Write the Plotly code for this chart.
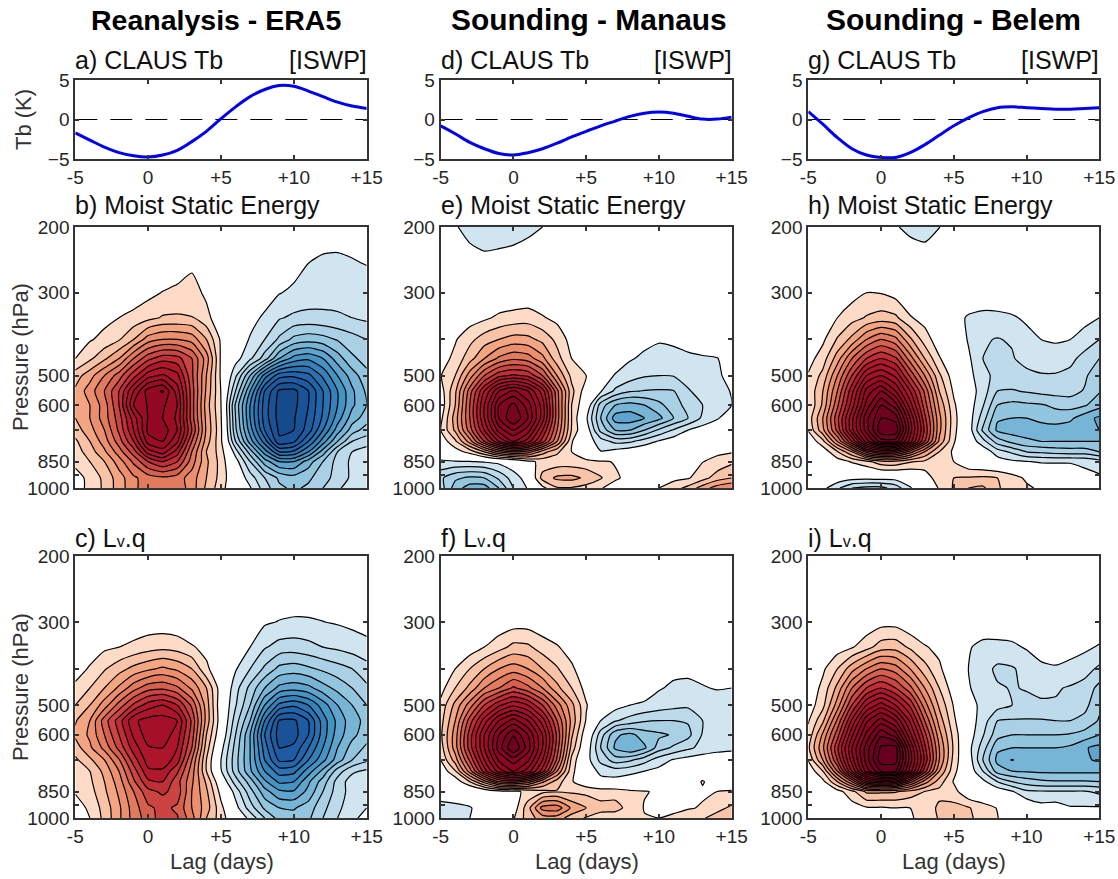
import plotly.graph_objects as go

lags = list(range(-5, 16))
pressure = [200, 250, 300, 350, 400, 450, 500, 550, 600, 650, 700, 750, 800, 850, 940, 1000]
titles = ["Reanalysis - ERA5", "Sounding - Manaus", "Sounding - Belem"]
x_ticks = [-5, 0, 5, 10, 15]
x_labels = ["-5", "0", "+5", "+10", "+15"]
p_ticks = [200, 300, 400, 500, 600, 700, 850, 925, 1000]
p_labels = ["200", "300", "", "500", "600", "", "850", "", "1000"]
tb_ticks = [-5, 0, 5]

tb_era5 = [-1.7,-2.6,-3.5,-4.2,-4.6,-4.75,-4.5,-3.9,-2.8,-1.5,0.1,1.6,2.9,3.8,4.3,4.2,3.6,2.9,2.2,1.7,1.4]
tb_manaus = [-0.8,-1.8,-2.9,-3.7,-4.3,-4.5,-4.2,-3.7,-3.0,-2.2,-1.5,-0.8,-0.2,0.4,0.8,0.95,0.8,0.4,0.05,0.05,0.3]
tb_belem = [1.0,-0.6,-2.3,-3.7,-4.5,-4.8,-4.8,-4.2,-3.2,-2.0,-0.8,0.2,1.0,1.5,1.6,1.5,1.4,1.3,1.3,1.4,1.5]

mse_era5 = [
[0,0,0,0,0,0,0,0,0,0,0,0,0,0,0,-0.3,-0.3,-0.4,-0.4,-0.4,-0.3],
[0,0,0,0,0,0,0.1,0.5,0.8,0.2,0,0,0,-0.1,-0.3,-0.6,-1.0,-1.2,-1.25,-1.1,-0.95],
[0,0,0.1,0.2,0.4,0.7,1.05,1.2,1.4,0.8,0.2,0,-0.1,-0.4,-0.95,-1.2,-1.4,-1.6,-1.7,-1.65,-1.6],
[0.1,0.4,0.7,1.0,1.3,1.7,2.1,2.15,2.05,1.3,0.3,0,-0.6,-1.2,-1.9,-2.2,-2.3,-2.2,-2.1,-2.0,-1.8],
[0.6,0.9,1.3,1.9,3.0,4.5,5.0,5.0,4.6,3.0,0.8,-0.2,-1.1,-2.0,-3.2,-4.3,-4.6,-4.4,-3.9,-3.4,-3.0],
[1.0,1.8,2.8,4.0,6.0,7.7,8.6,8.4,7.0,4.5,0.8,-0.6,-1.8,-3.5,-6.0,-7.4,-7.8,-7.0,-5.5,-4.2,-3.6],
[2.5,3.6,5.0,6.5,8.6,10.6,11.2,10.3,7.2,4.0,0.8,-1.8,-5.0,-8.5,-10.6,-10.8,-10.3,-8.8,-7.0,-5.5,-4.3],
[3.2,4.5,6.0,8.0,11.0,13.5,14.1,11.5,7.5,3.8,0.95,-3.0,-7.0,-11.0,-13.2,-13.3,-12.0,-10.0,-8.0,-6.2,-4.8],
[3.3,4.0,5.5,8.0,12.0,13.1,13.2,12.0,7.5,3.5,1.0,-4.2,-8.0,-11.5,-13.4,-13.3,-12.0,-10.0,-8.0,-6.2,-5.0],
[3.0,4.0,5.5,7.5,10.5,13.1,13.0,11.8,7.5,3.7,1.1,-4.0,-8.0,-11.5,-13.4,-13.1,-11.8,-9.8,-7.5,-5.5,-4.5],
[2.5,3.6,5.0,7.2,10.0,13.3,13.6,12.0,8.0,3.8,1.2,-3.8,-7.5,-11.0,-13.2,-13.0,-11.5,-9.0,-6.5,-4.5,-3.5],
[1.8,3.0,4.5,6.5,9.0,12.5,13.0,11.2,7.0,3.5,1.2,-3.0,-6.5,-9.5,-12.8,-12.2,-10.0,-7.5,-5.0,-3.0,-2.5],
[1.5,2.5,3.8,5.5,7.5,10.5,11.5,9.5,6.0,3.0,1.5,-1.5,-4.5,-7.5,-10.0,-9.8,-8.0,-5.5,-3.0,-2.0,-1.5],
[1.2,2.0,3.0,4.5,6.2,8.0,9.0,8.0,5.5,3.2,1.6,-0.5,-3.0,-5.5,-7.0,-7.0,-5.5,-4.0,-2.6,-1.8,-1.3],
[0.7,1.2,2.3,3.5,4.8,5.5,5.8,5.5,4.5,3.0,1.6,0.0,-1.5,-3.0,-4.2,-4.6,-4.2,-3.4,-2.6,-1.8,-1.2],
[0.5,1.3,2.2,3.5,4.7,5.7,6.0,5.7,4.5,2.8,1.4,0.0,-0.9,-2.5,-3.8,-4.2,-3.8,-3.0,-2.2,-1.4,-1.0],
]

lvq_era5 = [
[0,0,0,0,0,0,0,0,0,0,0,0,0,0,0,0,0,0,0,0,0],
[0,0,0,0,0,0,0,0,0,0,0,0,0,0,-0.3,-0.3,-0.3,-0.3,-0.3,-0.3,-0.2],
[0,0,0,0.1,0.3,0.4,0.4,0.3,0.1,0,0,0,-0.4,-0.85,-1.05,-1.15,-1.13,-1.02,-0.9,-0.75,-0.6],
[0.2,0.5,0.8,1.0,1.25,1.55,1.7,1.55,1.1,0.7,0.2,0,-1.0,-1.9,-2.4,-2.5,-2.3,-2.0,-1.8,-1.55,-1.3],
[0.6,1.1,1.9,2.6,3.3,3.8,4.2,3.8,3.0,1.2,0.2,-0.9,-2.0,-3.2,-4.3,-4.5,-4.2,-3.8,-3.4,-3.0,-2.4],
[1.2,2.0,3.0,4.2,5.6,6.6,6.8,6.2,4.8,3.0,0.4,-1.6,-3.3,-5.0,-6.3,-6.6,-6.3,-5.4,-4.7,-4.0,-3.2],
[2.0,3.0,4.5,6.4,8.2,9.5,10.0,9.0,6.8,3.5,0.2,-1.9,-4.0,-7.0,-9.3,-9.8,-9.0,-7.5,-6.0,-5.0,-4.0],
[2.9,4.0,6.5,8.5,10.8,11.4,11.5,11.0,7.8,3.6,0.3,-2.5,-5.0,-9.0,-12.1,-12.2,-11.0,-8.5,-6.7,-5.4,-4.7],
[3.2,4.2,6.0,8.0,10.2,11.5,11.6,10.5,7.5,3.0,0.0,-3.0,-6.0,-10.0,-12.5,-12.4,-11.0,-8.5,-6.5,-5.3,-4.4],
[2.5,3.8,5.3,7.3,9.5,10.9,11.0,10.0,7.0,2.5,-0.6,-3.4,-6.0,-9.5,-12.0,-11.8,-10.0,-8.0,-6.0,-4.6,-3.8],
[1.8,2.8,4.0,5.9,8.5,10.5,10.7,9.5,6.0,2.0,-1.0,-3.6,-6.0,-9.0,-11.2,-11.0,-9.0,-7.3,-5.5,-4.0,-3.2],
[1.1,2.0,3.3,5.0,7.5,9.8,9.8,8.2,5.5,2.0,-0.9,-3.5,-5.8,-8.0,-9.5,-9.3,-7.5,-5.7,-3.5,-2.2,-1.8],
[1.0,1.8,3.0,4.5,6.8,8.8,9.0,7.4,5.2,2.8,0.0,-2.5,-4.5,-6.8,-8.2,-8.0,-6.2,-4.5,-2.6,-1.5,-1.1],
[1.1,1.6,2.8,4.2,6.0,7.7,8.2,7.6,5.0,3.2,0.6,-1.4,-3.6,-5.6,-6.8,-6.9,-5.7,-4.0,-2.5,-1.6,-1.2],
[0.5,1.2,2.4,3.8,5.5,6.8,7.3,6.8,5.0,3.5,1.3,-0.6,-2.5,-4.2,-5.0,-5.1,-4.5,-3.3,-2.2,-1.5,-1.0],
[0.3,1.0,2.3,3.8,5.4,6.5,7.5,7.1,5.4,3.0,1.5,0.0,-1.3,-3.0,-4.4,-4.6,-4.2,-3.0,-2.0,-1.2,-0.7],
]

mse_manaus = [
[-0.2,-0.9,-1.4,-1.6,-1.6,-1.5,-1.3,-1.0,-0.6,-0.2,0,0,0,0,0,0,0,0,0,0,0],
[0,-0.2,-0.5,-0.7,-0.6,-0.5,-0.3,0,0,0,0,0,0,0,0,0,0,0,0,0,0],
[0,0,0,0,0.1,0.1,0.2,0.1,0,0,0,0,0,0,0,0,0,0,0,0,0],
[0,0.2,0.5,0.8,1.2,1.4,1.5,1.1,0.7,0.2,0,0,0,0,-0.1,-0.1,-0.1,0,0,0,0],
[0.3,0.9,1.7,2.5,3.0,3.4,3.3,2.7,1.7,0.6,0.1,0,-0.1,-0.3,-0.7,-0.9,-0.8,-0.5,-0.2,0,0],
[0.5,1.3,2.6,4.0,5.2,5.8,5.5,4.3,2.4,1.0,0.3,0,-0.3,-0.9,-1.2,-1.4,-1.35,-1.25,-1.15,-1.05,-0.5],
[0.95,2.0,4.5,7.0,8.7,9.2,8.8,7.0,4.0,1.7,1.05,-0.3,-1.1,-1.5,-1.9,-2.0,-1.95,-1.6,-1.3,-1.1,-0.8],
[0.5,2.8,6.5,10.0,13.0,14.2,13.0,10.5,6.3,2.3,0.4,-0.9,-2.2,-2.9,-3.05,-3.1,-3.05,-2.1,-1.6,-1.3,-0.95],
[0.3,3.0,7.0,11.0,15.0,16.3,14.5,11.5,6.5,2.0,0.0,-3.5,-5.0,-5.4,-5.0,-4.3,-3.4,-2.7,-2.0,-1.5,-1.0],
[0.7,3.5,7.0,11.0,15.0,17.0,15.0,11.5,6.5,2.0,-0.8,-4.0,-6.5,-6.6,-6.0,-5.3,-4.0,-3.0,-1.8,-1.1,-0.4],
[1.0,3.2,6.5,10.0,13.5,15.0,13.5,10.0,6.0,1.9,-0.3,-3.3,-5.0,-5.0,-4.0,-2.8,-1.9,-1.0,-0.5,-0.2,0],
[0.3,1.8,4.5,8.0,11.0,13.0,11.5,8.5,5.0,1.1,-0.4,-1.5,-2.3,-2.2,-1.5,-0.9,-0.4,-0.1,0,0,0],
[0,0.5,1.4,3.0,5.0,6.0,5.5,3.5,2.2,1.0,-0.1,-0.95,-0.6,-0.3,-0.1,0,0,0,0.3,0.8,0.9],
[-1.2,-1.1,-1.05,-0.9,-0.7,-0.3,0.7,1.3,1.4,1.4,1.3,1.1,0.95,0.4,0.1,0.3,0.5,0.85,0.97,1.3,1.8],
[-2.8,-3.8,-4.2,-4.0,-2.8,-1.5,-0.5,2.4,3.2,3.3,2.8,2.1,1.1,0.8,0.7,0.7,0.7,0.9,1.6,2.5,3.0],
[-2.5,-4.5,-5.5,-5.5,-4.0,-2.0,-0.9,0.7,1.9,1.9,1.6,1.05,0.7,0.7,0.8,1.0,1.6,2.3,3.5,4.5,5.0],
]

lvq_manaus = [
[0,0,0,0,0,0,0,0,0,0,0,0,0,0,0,0,0,0,0,0,0],
[0,0,0,0,0,0,0,0,0,0,0,0,0,0,0,0,0,0,0,0,0],
[0,0,0,0,0.3,0.5,0.5,0.3,0,0,0,0,0,0,0,0,0,0,0,0,0],
[0,0,0.4,1.0,1.6,2.3,2.2,1.5,1.1,0.5,0,0,0,0,0,0,-0.2,-0.2,-0.1,0,0],
[0.2,1.0,2.0,3.0,4.0,4.5,4.0,3.0,2.1,1.2,0.2,0,0,0,-0.1,-0.4,-0.7,-0.8,-0.5,-0.3,-0.2],
[0.6,2.0,3.3,5.0,6.0,7.2,6.3,5.0,3.3,2.0,0.6,0,0,-0.2,-0.5,-0.9,-1.2,-1.2,-1.1,-0.9,-1.0],
[1.3,3.3,5.5,8.0,9.8,10.8,10.0,8.0,5.5,3.3,1.1,-0.2,-0.6,-1.0,-1.15,-1.5,-1.7,-1.8,-1.8,-1.8,-1.8],
[1.6,4.0,7.5,10.5,13.0,14.4,13.0,10.5,7.0,3.7,0.9,-1.0,-1.9,-2.4,-2.9,-3.0,-3.0,-2.9,-2.0,-1.5,-1.3],
[1.8,4.5,8.5,12.0,15.0,16.9,15.0,12.0,7.8,3.2,0.2,-2.5,-4.8,-5.3,-4.5,-4.2,-3.9,-3.3,-1.9,-1.5,-1.8],
[1.5,4.5,8.5,12.0,15.5,18.0,15.5,12.0,7.5,2.6,-0.2,-3.0,-5.2,-6.0,-5.2,-3.5,-2.8,-2.2,-1.7,-1.4,-1.3],
[1.0,3.5,7.2,11.0,14.2,15.5,14.2,11.0,6.8,1.7,-0.5,-2.3,-3.5,-3.2,-2.4,-1.5,-0.9,-0.6,-0.4,-0.3,-0.2],
[0.2,1.9,5.5,9.5,12.5,14.0,12.5,9.5,5.0,1.3,-0.2,-1.3,-1.5,-1.3,-1.0,-0.7,-0.3,-0.1,0,0,0],
[0,0.3,2.0,4.5,7.0,7.5,6.5,4.2,2.5,1.1,0.2,-0.6,-0.6,-0.4,-0.2,-0.1,0,0.2,1.1,0.3,0.3],
[-0.7,-0.6,-0.5,0.0,0.6,0.8,1.2,1.7,1.9,1.8,1.7,1.6,1.55,1.2,1.05,0.9,0.5,0.7,0.85,1.0,1.1],
[-1.2,-1.15,-1.05,-0.7,-0.2,0.4,2.6,5.4,5.6,3.8,3.0,2.3,2.4,1.6,0.95,0.7,0.6,0.9,1.1,1.7,2.2],
[-1.1,-1.1,-1.0,-0.5,-0.2,0.9,2.5,3.5,3.5,2.5,1.9,1.6,1.3,1.1,1.05,1.0,1.3,1.6,1.9,2.4,2.8],
]

mse_belem = [
[0,0,0,0,0,0,-0.9,-1.3,-1.5,-1.05,0,0,0,0,0,0,0,0,0,0,0],
[0,0,0,0,0,0,0,-0.2,-0.3,0,0,0,0,0,0,0,0,0,0,0,0],
[0,0,0.1,0.6,1.0,0.95,0.6,0.1,0,0,0,0,0,0,0,0,0,0,0,0,0],
[0,0.1,1.0,1.6,2.1,2.4,2.2,1.1,0.6,0.1,-0.5,-1.15,-1.4,-1.35,-1.15,-0.8,-0.5,-0.4,-0.4,-0.7,-1.0],
[0.1,0.8,2.1,3.3,5.0,6.0,5.3,3.2,1.5,0.4,0,-1.1,-1.9,-2.05,-1.9,-1.4,-1.0,-0.9,-1.0,-1.4,-2.0],
[0.6,1.5,3.5,6.0,8.0,9.0,8.2,5.5,3.0,1.1,0.1,-0.8,-2.0,-2.3,-2.1,-1.6,-1.4,-1.4,-1.7,-2.4,-3.0],
[1.1,2.3,5.0,8.0,11.0,12.0,10.8,7.8,5.0,2.2,0.4,-0.5,-1.9,-2.1,-2.2,-2.3,-2.1,-2.1,-2.3,-2.8,-3.8],
[1.2,3.0,6.0,9.7,13.4,15.0,13.0,10.0,6.8,3.0,0.8,-0.4,-1.5,-3.0,-3.1,-2.9,-2.7,-2.6,-2.6,-3.1,-3.9],
[1.0,3.2,6.8,10.5,14.4,17.0,15.5,11.5,7.5,3.8,1.2,-0.4,-1.9,-4.0,-4.3,-4.2,-4.1,-3.8,-3.6,-3.9,-4.6],
[1.4,4.0,7.7,11.7,15.7,18.0,17.6,13.0,8.3,4.3,1.4,-0.4,-2.5,-4.9,-5.0,-5.0,-4.7,-4.5,-4.8,-5.6,-6.2],
[1.1,3.7,7.3,11.7,15.5,18.8,18.8,13.5,8.8,4.3,1.3,-0.3,-3.2,-5.2,-5.5,-5.5,-5.5,-5.5,-5.5,-5.7,-6.0],
[0.1,1.7,5.0,9.0,13.5,16.5,16.5,12.5,8.0,3.8,1.1,-0.2,-1.6,-3.5,-4.3,-4.8,-5.0,-5.0,-5.0,-5.0,-5.0],
[0,0.3,1.9,4.0,7.5,9.0,8.7,6.5,4.0,2.0,0.8,0,-0.3,-1.5,-2.2,-3.0,-3.2,-3.4,-3.5,-3.5,-4.0],
[0,0,0.5,1.1,1.7,2.6,2.7,2.1,1.8,1.7,1.0,0.1,-0.2,-0.5,-0.8,-0.95,-1.1,-1.1,-1.1,-1.2,-1.6],
[0,0,-0.3,-0.6,-0.7,-0.6,-0.6,-0.3,0.3,1.7,2.0,2.1,2.2,2.0,1.5,0.8,0.2,0,-0.1,-0.7,-0.8],
[0,-0.7,-1.8,-3.0,-3.3,-3.3,-2.6,-1.1,0,1.1,2.1,3.0,3.2,2.1,1.6,1.2,0.8,0.2,0,0,0],
]

lvq_belem = [
[0,0,0,0,0,0,0,0,0,0,0,0,0,0,0,0,0,0,0,0,0],
[0,0,0,0,0,0,0,0,0,0,0,0,0,0,0,0,0,0,0,0,0],
[0,0,0,0,0.3,0.6,0.6,0.2,0,0,0,-0.1,-0.3,-0.3,-0.3,-0.2,0,0,0,-0.1,-0.3],
[0,0,0.5,0.9,1.6,2.5,2.6,1.8,1.1,0.7,0.1,-0.9,-1.3,-1.3,-1.2,-0.9,-0.6,-0.5,-0.6,-0.8,-1.1],
[0,0.8,2.0,3.6,5.0,6.0,5.5,4.0,2.4,1.2,0.1,-1.0,-1.6,-2.2,-2.1,-1.7,-1.2,-1.1,-1.3,-1.6,-2.2],
[0.2,1.3,3.3,6.0,8.0,9.0,8.0,6.3,4.0,2.0,0.4,-0.9,-1.5,-1.9,-2.05,-1.95,-1.85,-1.9,-2.1,-2.4,-3.3],
[0.4,1.7,4.5,8.0,11.0,12.5,11.0,8.8,5.5,2.8,0.9,-0.7,-1.2,-1.6,-2.0,-2.2,-2.1,-2.1,-2.3,-2.7,-3.8],
[0.9,2.8,6.2,10.2,13.8,15.5,14.0,10.8,7.0,3.6,1.2,-0.4,-1.5,-3.0,-3.1,-3.1,-3.1,-3.0,-3.0,-3.3,-4.1],
[1.3,4.2,7.6,11.8,15.3,17.8,16.5,12.3,8.4,4.4,1.6,-0.4,-1.9,-3.6,-4.0,-4.0,-4.0,-4.0,-4.1,-4.4,-5.0],
[1.8,4.8,8.8,13.0,16.5,19.2,19.5,14.0,9.3,5.0,1.8,-0.6,-2.5,-4.8,-5.0,-5.0,-5.0,-5.0,-5.2,-5.9,-6.3],
[1.1,4.0,8.0,12.5,16.5,19.6,19.5,14.5,9.8,5.0,1.6,-0.3,-3.0,-5.3,-6.05,-5.6,-5.5,-5.5,-5.6,-5.9,-6.1],
[0.2,2.0,6.0,11.0,15.5,18.0,18.0,13.5,8.5,4.0,1.3,-0.2,-2.0,-4.5,-5.0,-5.1,-5.2,-5.2,-5.2,-5.2,-5.2],
[0,0.7,3.0,6.0,10.0,11.0,10.5,7.5,4.5,2.5,0.9,0,-0.7,-2.0,-3.0,-3.5,-3.8,-3.9,-3.9,-3.9,-4.0],
[0,0.1,0.6,1.7,3.2,3.2,3.1,2.6,2.0,1.7,1.4,0.1,0,-0.3,-0.9,-1.8,-1.9,-1.9,-1.9,-1.9,-2.2],
[0,0,0,0.5,0.9,0.9,1.0,1.0,1.4,2.2,2.3,2.1,1.4,0.95,0.2,0,-0.6,-0.5,-0.9,-0.9,-0.9],
[0,0,0,0,0,0.2,0.5,0.9,1.3,2.1,2.4,2.2,1.6,1.05,0.1,0,0,0,0,0,0],
]

tb_sets = [tb_era5, tb_manaus, tb_belem]
mse_sets = [mse_era5, mse_manaus, mse_belem]
lvq_sets = [lvq_era5, lvq_manaus, lvq_belem]
labels_tb = ["a) CLAUS Tb", "d) CLAUS Tb", "g) CLAUS Tb"]
labels_mse = ["b) Moist Static Energy", "e) Moist Static Energy", "h) Moist Static Energy"]
q = "L<span style='font-size:16px'>v</span>.q"
labels_q = ["c) " + q, "f) " + q, "i) " + q]

reds = ["#FDDBC7","#F9C3A8","#F4A582","#EB8F6F","#E27A5E","#D6604D","#CB4441","#C02E36","#B2182B",
        "#AC152A","#A41027","#9B0C25","#930823","#8A0621","#810420","#78031F","#70021F","#67001F"]
blues = ["#D1E5F0","#BCDAEA","#A9D0E5","#92C5DE","#76B5D6","#5EA4CE","#4393C3","#3681BA","#2B72B2",
         "#2166AC","#1D5CA2","#195297","#154A8C","#124284","#0E3C7B","#0B3772","#083369","#053061"]

NLEV = 30


def stepped(cols):
    stops = [[0, "rgba(255,255,255,0)"], [0.5 / NLEV, "rgba(255,255,255,0)"]]
    for lev in range(1, NLEV + 1):
        c = cols[min(lev, len(cols)) - 1]
        stops.append([(lev - 0.5) / NLEV, c])
        stops.append([(lev + 0.5) / NLEV, c])
    stops[-1][0] = 1
    return stops


PX_W, PX_H = 1118, 879
cols_px = [(75.3, 366.7), (440.7, 731.7), (808.3, 1099.3)]
rows_px = [(80, 159), (227, 488), (556, 818)]
title_x = [216, 589, 953.5]
title_size = [28.5, 29.9, 30]
TICK = "#262626"
fig = go.Figure()
annots = []


def dom_x(a):
    return [a[0] / PX_W, a[1] / PX_W]


def dom_y(a):
    return [1 - a[1] / PX_H, 1 - a[0] / PX_H]


def text(x, y, s, size, anchor="left", color="#111111", bold=False, angle=0):
    annots.append(dict(x=x / PX_W, y=1 - y / PX_H, xref="paper", yref="paper",
                       text=f"<b>{s}</b>" if bold else s,
                       showarrow=False, xanchor=anchor, yanchor="middle", textangle=angle,
                       font=dict(size=size, color=color, family="Liberation Sans")))


n = 0
axes = {}
for c in range(3):
    for r in range(3):
        n += 1
        xn = "x" if n == 1 else f"x{n}"
        yn = "y" if n == 1 else f"y{n}"
        xa = dict(domain=dom_x(cols_px[c]), anchor=yn, range=[-5, 15], tickmode="array", tickvals=x_ticks,
                  ticktext=x_labels, ticks="inside", ticklen=4, tickwidth=1.5, tickcolor="#333333", showgrid=False,
                  zeroline=False, mirror="ticks", showline=True, linewidth=2, linecolor="#333333", automargin=False,
                  tickfont=dict(size=19, color=TICK, family="Liberation Sans"), showticklabels=(r != 1))
        if r == 0:
            ya = dict(range=[-5, 5], tickmode="array", tickvals=tb_ticks)
            fig.add_trace(go.Scatter(x=[-5, 15], y=[0, 0], mode="lines", xaxis=xn, yaxis=yn, showlegend=False,
                                     line=dict(color="black", width=1, dash="22px,13px")))
            fig.add_trace(go.Scatter(x=lags, y=tb_sets[c], mode="lines", xaxis=xn, yaxis=yn, showlegend=False,
                                     line=dict(color="#0000F0", width=3, shape="spline")))
        else:
            ya = dict(type="log", range=[3, 2.30103], tickmode="array", tickvals=p_ticks, ticktext=p_labels)
            z = (mse_sets if r == 1 else lvq_sets)[c]
            for sign, cm in ((1, reds), (-1, blues)):
                fig.add_trace(go.Contour(
                    x=lags, y=pressure, z=[[sign * v for v in row] for row in z], xaxis=xn, yaxis=yn,
                    autocontour=False, contours=dict(start=1, end=NLEV, size=1, coloring="fill"),
                    colorscale=stepped(cm), showscale=False, hoverinfo="skip",
                    line=dict(color="black", width=1.2, smoothing=0.6)))
        ya.update(domain=dom_y(rows_px[r]), anchor=xn, ticks="inside", ticklen=4, tickwidth=1.5, tickcolor="#333333",
                  showgrid=False, zeroline=False, mirror="ticks", showline=True, linewidth=2, linecolor="#333333",
                  automargin=False, tickfont=dict(size=19, color=TICK, family="Liberation Sans"))
        axes["xaxis" if n == 1 else f"xaxis{n}"] = xa
        axes["yaxis" if n == 1 else f"yaxis{n}"] = ya

for c in range(3):
    l, rr = cols_px[c]
    text(title_x[c], 20, titles[c], title_size[c], "center", "#000000", True)
    text(l - 2, 60, labels_tb[c], 25)
    text(rr + 2, 60, "[ISWP]", 25, "right")
    text(l - 2, 205, labels_mse[c], 25)
    text(l - 2, 538, labels_q[c], 25)
    text((l + rr) / 2 + 0.5, 861, "Lag (days)", 22, "center", "#333333")
text(24, 119, "Tb (K)", 22, "center", "#333333", angle=-90)
text(20, 357, "Pressure (hPa)", 22, "center", "#333333", angle=-90)
text(20, 687, "Pressure (hPa)", 22, "center", "#333333", angle=-90)

fig.update_layout(width=PX_W, height=PX_H, autosize=False, margin=dict(l=0, r=0, t=0, b=0), paper_bgcolor="white",
                  plot_bgcolor="white", showlegend=False, annotations=annots, **axes)
fig.write_html("out.html", config=dict(displayModeBar=False), post_script="document.body.style.margin='0';")
